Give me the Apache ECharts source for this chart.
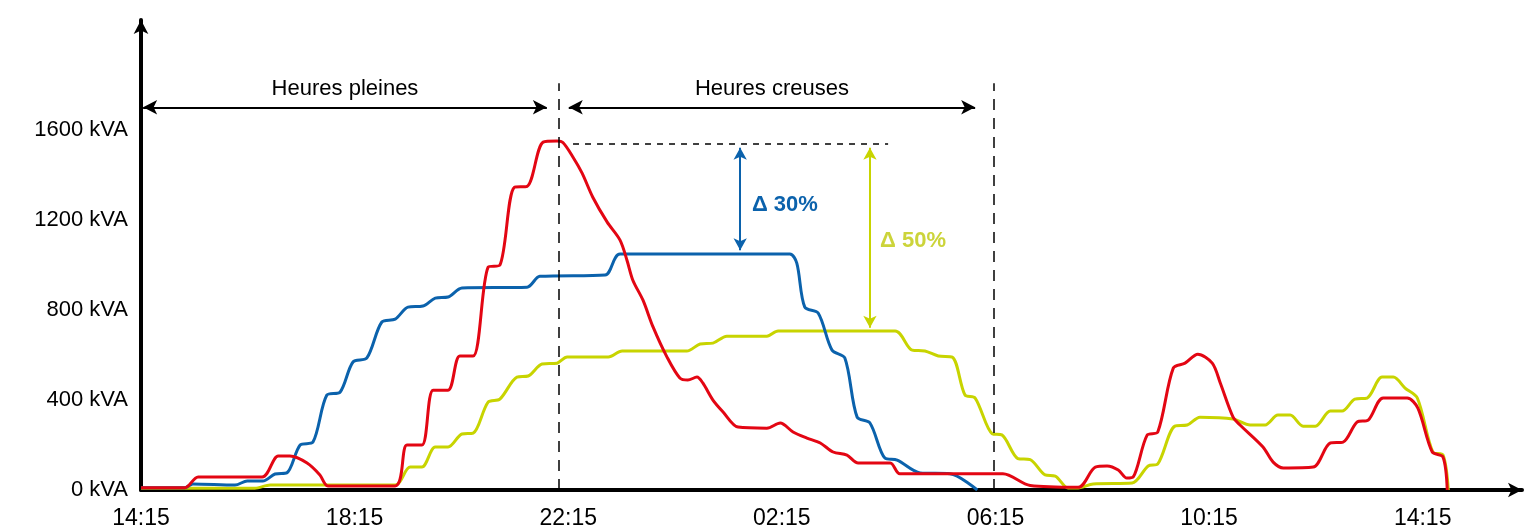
<!DOCTYPE html>
<html>
<head>
<meta charset="utf-8">
<script src="https://cdn.jsdelivr.net/npm/echarts@6/dist/echarts.min.js"></script>
<style>
  html, body { margin: 0; padding: 0; background: #fff; }
  #chart { width: 1532px; height: 527px; }
</style>
</head>
<body>
<div id="chart"></div>
<script>
// heures écoulées depuis 14:15, puissance en kVA
const heures = ['14:15', '18:15', '22:15', '02:15', '06:15', '10:15', '14:15']

const courbeRouge = [
  [0, 10], [0.82, 10], [1.07, 58], [2.27, 58], [2.57, 151], [2.79, 151], [3.11, 120],
  [3.35, 67], [3.5, 18], [4.76, 18], [4.98, 200], [5.26, 200], [5.47, 444], [5.75, 444],
  [5.97, 596], [6.22, 596], [6.5, 991], [6.72, 1000], [6.99, 1346], [7.23, 1350],
  [7.53, 1547], [7.79, 1552], [7.9, 1545], [8.09, 1480], [8.26, 1409], [8.46, 1302],
  [8.73, 1191], [8.97, 1111], [9.1, 1022], [9.21, 933], [9.4, 844], [9.59, 724],
  [9.85, 591], [10.09, 498], [10.24, 489], [10.41, 502], [10.52, 476], [10.71, 400],
  [10.9, 347], [11.18, 280], [11.72, 275], [11.97, 298], [12.21, 258], [12.47, 231],
  [12.72, 209], [12.96, 169], [13.22, 155], [13.43, 120], [14.03, 120], [14.21, 72],
  [16.14, 72], [16.65, 20], [17.55, 12], [17.87, 102], [18.09, 107], [18.3, 89],
  [18.46, 53], [18.58, 58], [18.84, 244], [19.04, 258], [19.33, 542], [19.55, 564],
  [19.79, 604], [20.06, 564], [20.21, 476], [20.45, 324], [20.58, 289], [21.01, 191],
  [21.2, 124], [21.39, 98], [21.95, 102], [22.27, 209], [22.51, 213], [22.77, 302],
  [22.98, 311], [23.26, 409], [23.71, 409], [23.91, 364], [24.18, 169], [24.38, 147],
  [24.46, 0]
]

const courbeBleue = [
  [0, 10], [0.82, 10], [0.97, 27], [1.76, 22], [1.99, 40], [2.28, 40], [2.51, 71],
  [2.73, 76], [2.98, 200], [3.22, 213], [3.48, 422], [3.73, 436], [3.97, 569],
  [4.23, 587], [4.51, 747], [4.76, 760], [5.0, 813], [5.28, 818], [5.51, 853],
  [5.75, 858], [6.01, 898], [7.23, 902], [7.47, 950], [8.69, 956], [8.97, 1049],
  [12.15, 1049], [12.28, 1009], [12.43, 813], [12.68, 787], [12.94, 622], [13.18, 587],
  [13.41, 324], [13.65, 298], [13.93, 142], [14.16, 133], [14.59, 76], [15.15, 72],
  [15.66, 0]
]

const courbeJaune = [
  [0, 8], [2.13, 8], [2.42, 22], [4.76, 22], [5.04, 102], [5.26, 102], [5.51, 191],
  [5.75, 191], [6.01, 249], [6.22, 253], [6.5, 391], [6.72, 404], [7.04, 502],
  [7.25, 507], [7.51, 560], [7.79, 564], [7.98, 591], [8.75, 591], [9.01, 618],
  [10.22, 618], [10.47, 649], [10.71, 653], [10.97, 684], [11.72, 684], [11.93, 707],
  [14.12, 707], [14.44, 622], [14.68, 618], [14.93, 596], [15.19, 591], [15.43, 422],
  [15.62, 409], [15.94, 250], [16.12, 245], [16.42, 140], [16.65, 135], [16.93, 67],
  [17.12, 62], [17.36, 9], [17.55, 9], [17.83, 27], [18.56, 31], [18.86, 107],
  [19.04, 116], [19.36, 284], [19.59, 289], [19.83, 324], [20.45, 316], [20.77, 289],
  [21.05, 289], [21.29, 333], [21.52, 333], [21.76, 284], [21.99, 284], [22.27, 351],
  [22.49, 351], [22.73, 404], [22.96, 409], [23.24, 502], [23.45, 502], [23.67, 453],
  [23.9, 409], [24.19, 169], [24.38, 156], [24.48, 0]
]

// limites heures pleines / creuses
const limites = [7.83, 15.97]
const niveauFleches = 1702
const pointe = 1538

const rouge = '#e30613'
const bleu = '#0b62ac'
const jaune = '#c8d400'

const chart = echarts.init(document.getElementById('chart'))

const police = "'Liberation Sans', Arial, Helvetica, sans-serif"

chart.setOption({
  animation: false,
  grid: {
    left: 141,
    right: 10,
    top: 20,
    bottom: 37,
    outerBoundsMode: 'none'
  },
  xAxis: {
    type: 'value',
    min: 0,
    max: 25.86,
    interval: 4,
    axisLine: {
      lineStyle: { color: '#000', width: 4 },
      symbol: ['none', 'arrow'],
      symbolSize: [11, 14]
    },
    axisTick: { show: false },
    splitLine: { show: false },
    axisLabel: {
      color: '#000',
      fontSize: 23,
      fontFamily: police,
      margin: 17,
      formatter: (v) => (v % 4 === 0 ? heures[v / 4] : '')
    }
  },
  yAxis: {
    type: 'value',
    min: 0,
    max: 2090,
    interval: 400,
    axisLine: {
      lineStyle: { color: '#000', width: 4 },
      symbol: ['none', 'arrow'],
      symbolSize: [11, 14]
    },
    axisTick: { show: false },
    splitLine: { show: false },
    axisLabel: {
      color: '#000',
      fontSize: 22,
      fontFamily: police,
      margin: 13,
      formatter: (v) => (v <= 1600 ? v + ' kVA' : '')
    }
  },
  series: [
    {
      type: 'line',
      data: courbeJaune,
      smooth: 0.3,
      symbol: 'none',
      lineStyle: { color: jaune, width: 3 },
      z: 2,
      markLine: {
        silent: true,
        symbol: 'none',
        label: { show: false },
        data: [
          // limites pointillées
          [
            { coord: [limites[0], 0], lineStyle: { color: '#000', width: 1.5, type: [11, 8] } },
            { coord: [limites[0], 1809] }
          ],
          [
            { coord: [limites[1], 0], lineStyle: { color: '#000', width: 1.5, type: [11, 8] } },
            { coord: [limites[1], 1809] }
          ],
          // niveau de pointe
          [
            { coord: [8.09, pointe], lineStyle: { color: '#000', width: 1.5, type: [6, 6] } },
            { coord: [13.99, pointe] }
          ],
          // flèche jaune
          [
            { coord: [13.65, 1522], symbol: 'arrow', symbolSize: [10, 12], lineStyle: { color: jaune, width: 2, type: 'solid' } },
            { coord: [13.65, 722], symbol: 'arrow', symbolSize: [10, 12] }
          ]
        ]
      },
      markPoint: {
        silent: true,
        symbol: 'circle',
        symbolSize: 0,
        data: [
          {
            coord: [13.84, 1107],
            label: {
              show: true,
              position: 'right',
              distance: 0,
              formatter: 'Δ 50%',
              color: '#ccd43a',
              fontSize: 22,
              fontWeight: 'bold',
              fontFamily: police
            }
          }
        ]
      }
    },
    {
      type: 'line',
      data: courbeBleue,
      smooth: 0.3,
      symbol: 'none',
      lineStyle: { color: bleu, width: 3 },
      z: 3,
      markLine: {
        silent: true,
        symbol: 'none',
        label: { show: false },
        data: [
          [
            { coord: [11.22, 1522], symbol: 'arrow', symbolSize: [10, 12], lineStyle: { color: bleu, width: 2, type: 'solid' } },
            { coord: [11.22, 1066], symbol: 'arrow', symbolSize: [10, 12] }
          ]
        ]
      },
      markPoint: {
        silent: true,
        symbol: 'circle',
        symbolSize: 0,
        data: [
          {
            coord: [11.44, 1267],
            label: {
              show: true,
              position: 'right',
              distance: 0,
              formatter: 'Δ 30%',
              color: bleu,
              fontSize: 22,
              fontWeight: 'bold',
              fontFamily: police
            }
          }
        ]
      }
    },
    {
      type: 'line',
      data: courbeRouge,
      smooth: 0.3,
      symbol: 'none',
      lineStyle: { color: rouge, width: 3 },
      z: 4,
      markLine: {
        silent: true,
        symbol: 'none',
        data: [
          [
            {
              coord: [0.04, niveauFleches],
              symbol: 'arrow',
              symbolSize: [11, 14],
              lineStyle: { color: '#000', width: 2, type: 'solid' },
              label: {
                show: true,
                position: 'middle',
                distance: 7,
                formatter: 'Heures pleines',
                color: '#000',
                fontSize: 22,
                fontFamily: police
              }
            },
            { coord: [7.6, niveauFleches], symbol: 'arrow', symbolSize: [11, 14] }
          ],
          [
            {
              coord: [8.01, niveauFleches],
              symbol: 'arrow',
              symbolSize: [11, 14],
              lineStyle: { color: '#000', width: 2, type: 'solid' },
              label: {
                show: true,
                position: 'middle',
                distance: 7,
                formatter: 'Heures creuses',
                color: '#000',
                fontSize: 22,
                fontFamily: police
              }
            },
            { coord: [15.62, niveauFleches], symbol: 'arrow', symbolSize: [11, 14] }
          ]
        ]
      }
    }
  ]
})
</script>
</body>
</html>
